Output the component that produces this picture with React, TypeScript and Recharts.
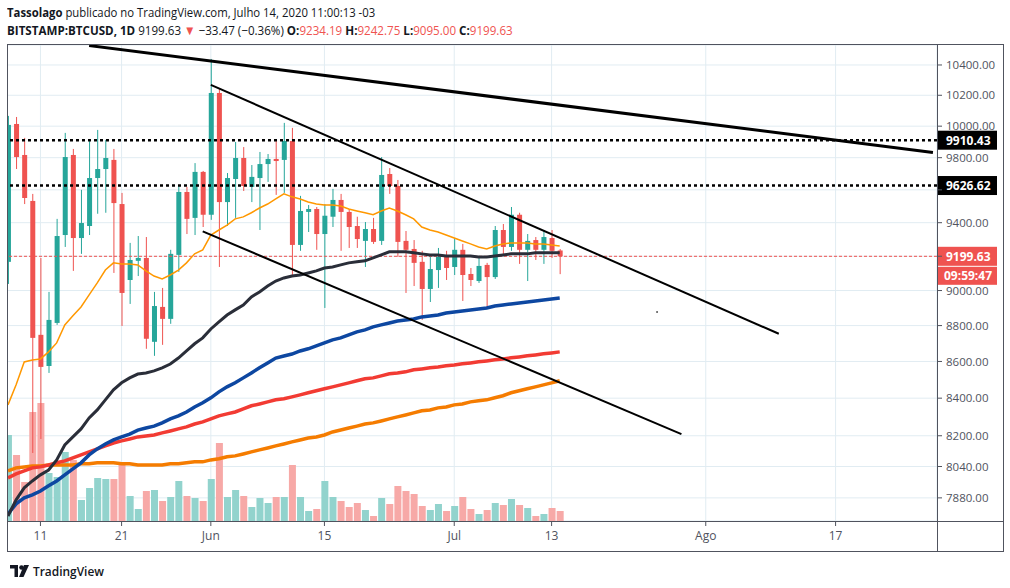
import React, { useLayoutEffect, useRef, useState } from "react"
import {
  ComposedChart,
  Bar,
  Line,
  XAxis,
  YAxis,
  CartesianGrid,
  ReferenceLine,
  ReferenceDot,
} from "recharts"

const GREEN = "#26a69a"
const RED = "#ef5350"
const GREEN_VOL = "#92d3cd"
const RED_VOL = "#f7a9a7"
const AXIS = "#50535e"
const GRID = "#e1ecf2"
const FONT = "'Open Sans', 'Noto Sans', sans-serif"

// daily candles, 7 May .. 14 Jul 2020
const opens = [9167, 10014, 9817, 9532, 8748, 8575, 8815, 9326, 9817, 9308, 9380, 9673, 9729, 9786, 9513, 9061, 9173, 9190, 8709, 8906, 8838, 9208, 9587, 9429, 9711, 9448, 10215, 9525, 9667, 9798, 9618, 9673, 9760, 9792, 9786, 9905, 9267, 9465, 9483, 9332, 9436, 9538, 9465, 9380, 9291, 9362, 9291, 9698, 9624, 9291, 9243, 9167, 9009, 9119, 9202, 9137, 9238, 9096, 9055, 9149, 9078, 9356, 9255, 9448, 9238, 9296, 9238, 9308, 9234.19]
const highs = [10066, 10059, 9925, 9575, 9190, 8992, 9423, 9957, 9855, 9600, 9905, 9976, 9912, 9855, 9581, 9279, 9320, 9314, 8992, 9015, 9238, 9630, 9618, 9766, 9717, 10440, 10241, 9704, 9899, 9867, 9754, 9836, 9823, 9905, 10021, 9989, 9563, 9507, 9495, 9513, 9606, 9575, 9483, 9436, 9404, 9429, 9804, 9735, 9661, 9350, 9296, 9232, 9196, 9249, 9232, 9308, 9273, 9131, 9202, 9161, 9380, 9392, 9495, 9460, 9332, 9314, 9356, 9356, 9242.75]
const lows = [9038, 9729, 9513, 8110, 8183, 8537, 8804, 9255, 9114, 9214, 9326, 9454, 9460, 9102, 8798, 8923, 9084, 8670, 8631, 8692, 8810, 9108, 9332, 9326, 9374, 9417, 9137, 9380, 9429, 9593, 9525, 9356, 9649, 9569, 9581, 9078, 9232, 9344, 9238, 8900, 9374, 9232, 9249, 9249, 9137, 9273, 9267, 9575, 9196, 8986, 9026, 8832, 8934, 9015, 9061, 9090, 8940, 9026, 9044, 8906, 9067, 9208, 9232, 9155, 9055, 9178, 9155, 9190, 9095]
const closes = [10008, 9804, 9550, 8731, 8570, 8832, 9320, 9804, 9308, 9398, 9673, 9729, 9798, 9519, 8986, 9178, 9190, 8726, 8911, 8838, 9214, 9587, 9423, 9711, 9448, 10215, 9525, 9673, 9798, 9624, 9680, 9760, 9792, 9779, 9905, 9267, 9471, 9483, 9332, 9442, 9538, 9465, 9374, 9302, 9362, 9285, 9692, 9624, 9285, 9238, 9161, 9009, 9125, 9196, 9131, 9238, 9090, 9061, 9143, 9078, 9356, 9255, 9448, 9238, 9291, 9238, 9314, 9232, 9199.63]
const volumes = [21500, 16500, 9750, 27250, 29500, 12000, 11000, 17250, 15250, 5250, 8250, 10750, 10500, 10500, 14500, 6250, 3000, 7500, 7750, 5000, 6000, 10000, 6250, 5750, 5000, 10500, 19500, 6000, 7750, 6250, 3500, 5750, 4500, 6000, 6000, 14000, 6000, 2500, 3000, 10000, 6000, 5000, 3500, 4500, 2750, 1250, 5750, 4250, 8750, 7500, 6750, 3750, 2750, 4250, 2500, 3750, 6000, 3000, 1750, 2750, 4500, 4000, 5500, 4000, 3250, 1250, 1750, 3250, 2500]

// moving averages
const maOrangeThin = [8364, 8472, 8597, 8608, 8614, 8653, 8703, 8804, 8855, 8906, 8975, 9044, 9119, 9161, 9155, 9155, 9149, 9114, 9084, 9067, 9090, 9119, 9161, 9214, 9238, 9326, 9356, 9386, 9423, 9435, 9460, 9489, 9513, 9544, 9575, 9557, 9544, 9526, 9513, 9507, 9507, 9501, 9483, 9471, 9460, 9448, 9471, 9489, 9471, 9448, 9423, 9374, 9356, 9344, 9326, 9308, 9290, 9273, 9255, 9243, 9261, 9273, 9279, 9279, 9279, 9273, 9273, 9267, 9261]
const maDark = [7789, 7870, 7931, 7966, 7997, 8022, 8074, 8152, 8194, 8236, 8294, 8337, 8391, 8445, 8483, 8510, 8531, 8537, 8548, 8565, 8586, 8619, 8658, 8698, 8731, 8781, 8821, 8860, 8889, 8917, 8963, 8992, 9026, 9055, 9073, 9084, 9090, 9102, 9114, 9131, 9137, 9149, 9161, 9167, 9173, 9190, 9208, 9226, 9226, 9226, 9220, 9214, 9208, 9208, 9202, 9202, 9202, 9202, 9196, 9196, 9202, 9208, 9214, 9214, 9214, 9220, 9220, 9220, 9220]
const maBlue = [7799, 7850, 7880, 7895, 7915, 7941, 7966, 7997, 8028, 8059, 8100, 8131, 8157, 8178, 8194, 8209, 8230, 8241, 8251, 8268, 8289, 8305, 8326, 8353, 8375, 8402, 8434, 8461, 8483, 8510, 8537, 8565, 8592, 8619, 8630, 8641, 8658, 8670, 8686, 8703, 8720, 8731, 8748, 8765, 8776, 8793, 8804, 8815, 8826, 8832, 8837, 8849, 8854, 8860, 8871, 8877, 8883, 8888, 8894, 8900, 8911, 8917, 8923, 8928, 8934, 8940, 8946, 8951, 8957]
const maRed = [7982, 8002, 8017, 8033, 8038, 8048, 8059, 8069, 8085, 8100, 8116, 8131, 8147, 8162, 8173, 8183, 8194, 8199, 8204, 8215, 8225, 8236, 8247, 8262, 8273, 8289, 8305, 8316, 8326, 8343, 8359, 8369, 8380, 8391, 8397, 8407, 8418, 8429, 8440, 8451, 8461, 8472, 8483, 8494, 8505, 8510, 8521, 8532, 8537, 8543, 8554, 8559, 8565, 8570, 8576, 8581, 8587, 8592, 8598, 8603, 8609, 8614, 8620, 8625, 8631, 8636, 8642, 8647, 8653]
const maOrangeThick = [8017, 8033, 8038, 8043, 8043, 8048, 8048, 8048, 8048, 8054, 8054, 8059, 8059, 8059, 8054, 8054, 8048, 8048, 8048, 8048, 8054, 8054, 8059, 8064, 8064, 8074, 8080, 8090, 8095, 8105, 8116, 8126, 8136, 8147, 8157, 8168, 8178, 8188, 8194, 8204, 8220, 8230, 8241, 8251, 8262, 8268, 8278, 8289, 8300, 8310, 8321, 8332, 8337, 8348, 8353, 8364, 8369, 8380, 8386, 8391, 8402, 8413, 8429, 8440, 8451, 8461, 8472, 8483, 8494]

// drawn trend lines: [day index, price]
const trendTop = [[10, 10530], [114, 9833]]
const channelUpper = [[25, 10268], [95, 8754]]
const channelLower = [[24, 9348], [83, 8209]]

const levelHigh = 9910.43
const levelLow = 9626.62
const lastPrice = 9199.63
const countdown = "09:59:47"

const TOTAL_DAYS = 115
const xTicks = [4, 14, 25, 39, 55, 67, 86, 102]
const xTickLabels = ["11", "21", "Jun", "15", "Jul", "13", "Ago", "17"]
const yTicks = [7880, 8040, 8200, 8400, 8600, 8800, 9000, 9200, 9400, 9600, 9800, 10000, 10200, 10400]
// labels covered by the price tags in the original
const hiddenTickLabels = [9200, 9600]

const pick = (pts: number[][], i: number) => {
  const hit = pts.find((p) => p[0] === i)
  return hit ? hit[1] : undefined
}

const rows = Array.from({ length: TOTAL_DAYS }, (_, i) => {
  const row: any = { i }
  if (i < opens.length) {
    row.open = opens[i]
    row.high = highs[i]
    row.low = lows[i]
    row.close = closes[i]
    row.vol = volumes[i]
    row.maOrangeThin = maOrangeThin[i]
    row.maDark = maDark[i]
    row.maBlue = maBlue[i]
    row.maRed = maRed[i]
    row.maOrangeThick = maOrangeThick[i]
  }
  row.t1 = pick(trendTop, i)
  row.t2 = pick(channelUpper, i)
  row.t3 = pick(channelLower, i)
  return row
})

function Candle(props: any) {
  const { x, y, width, height, payload } = props
  if (!payload || payload.open == null) return null
  const top = Math.min(y, y + height)
  const bottom = Math.max(y, y + height)
  const lh = Math.log(payload.high)
  const ll = Math.log(payload.low)
  const py = (v: number) => top + ((bottom - top) * (lh - Math.log(v))) / (lh - ll)
  const up = payload.close >= payload.open
  const color = up ? GREEN : RED
  const cx = x + width / 2
  const bTop = py(Math.max(payload.open, payload.close))
  const bBot = py(Math.min(payload.open, payload.close))
  return (
    <g>
      <line x1={cx} x2={cx} y1={top} y2={bottom} stroke={color} strokeWidth={1} />
      <rect x={cx - 2.5} y={bTop} width={5} height={Math.max(1, bBot - bTop)} fill={color} />
    </g>
  )
}

function VolumeBar(props: any) {
  const { x, y, width, height, payload } = props
  if (!payload || payload.vol == null) return null
  const up = payload.close >= payload.open
  return <rect x={x} y={y} width={width} height={height} fill={up ? GREEN_VOL : RED_VOL} />
}

function PriceTick(props: any) {
  const { x, y, payload } = props
  if (hiddenTickLabels.includes(payload.value)) return null
  return (
    <text x={x} y={y} dy="0.355em" fill={AXIS} fontSize={11.5} fontFamily={FONT} textAnchor="start">
      {Number(payload.value).toFixed(2)}
    </text>
  )
}

function PriceTag(props: any) {
  const { viewBox, text, fill, extra } = props
  if (!viewBox) return null
  const x = viewBox.x + viewBox.width
  const y = viewBox.y
  return (
    <g>
      <rect x={x} y={y - 9.5} width={60} height={19} fill={fill} />
      <text x={x + 9} y={y + 4.5} fill="#fff" fontSize={12} fontWeight={700} fontFamily={FONT}>
        {text}
      </text>
      {extra && (
        <g>
          <rect x={x} y={y + 10.5} width={60} height={18} fill={fill} />
          <text x={x + 7} y={y + 24} fill="#fff" fontSize={12} fontWeight={700} fontFamily={FONT}>
            {extra}
          </text>
        </g>
      )}
    </g>
  )
}

// one header line, squeezed horizontally to the width it has in the original
function FitLine({ width, top, children }: { width: number; top: number; children: React.ReactNode }) {
  const ref = useRef<HTMLDivElement>(null)
  const [sx, setSx] = useState(1)
  useLayoutEffect(() => {
    if (ref.current && ref.current.scrollWidth > 0) setSx(width / ref.current.scrollWidth)
  }, [width])
  return (
    <div
      ref={ref}
      style={{
        position: "absolute",
        left: 7,
        top,
        display: "inline-block",
        whiteSpace: "nowrap",
        fontFamily: FONT,
        fontSize: 13,
        lineHeight: "18px",
        color: "#131722",
        transform: `scaleX(${sx})`,
        transformOrigin: "0 0",
      }}
    >
      {children}
    </div>
  )
}

const red = (t: string) => <span style={{ color: RED }}>{t}</span>

function Header() {
  return (
    <>
      <FitLine width={368} top={3}>
        <b>Tassolago</b> publicado no TradingView.com, Julho 14, 2020 11:00:13 -03
      </FitLine>
      <FitLine width={506} top={21}>
        <b>BITSTAMP:BTCUSD, 1D</b> 9199.63 {red("▼")} −33.47 (−0.36%) <b>O:</b>
        {red("9234.19")} <b>H:</b>
        {red("9242.75")} <b>L:</b>
        {red("9095.00")} <b>C:</b>
        {red("9199.63")}
      </FitLine>
    </>
  )
}

function Footer() {
  return (
    <svg width={200} height={30} style={{ position: "absolute", left: 0, top: 558 }}>
      <g transform="translate(10,6)" fill="#131722">
        <path d="M0 1h8v12H4.5V4.5H0z" />
        <circle cx={11.5} cy={3.5} r={2.3} />
        <path d="M14 1h5l-5.5 12h-4.5z" />
      </g>
      <text x={33} y={18} fontSize={13} fontWeight={600} fontFamily={FONT} fill="#131722" textLength={71} lengthAdjust="spacingAndGlyphs">
        TradingView
      </text>
    </svg>
  )
}

const line = (style: React.CSSProperties) => (
  <div style={{ position: "absolute", background: AXIS, ...style }} />
)

export default function App() {
  return (
    <div style={{ position: "absolute", left: 0, top: 0, width: 1010, height: 588, background: "#fff", overflow: "hidden" }}>
      <Header />
      <div style={{ position: "absolute", left: 0, top: 0 }}>
        <ComposedChart
          width={1010}
          height={588}
          data={rows}
          margin={{ top: 45, right: 7, bottom: 37, left: 3.94 }}
        >
          <CartesianGrid stroke={GRID} strokeWidth={1} />
          <XAxis
            dataKey="i"
            ticks={xTicks}
            interval={0}
            tickFormatter={(v: any) => xTickLabels[xTicks.indexOf(v)] ?? ""}
            height={30}
            tickSize={5}
            tickMargin={5}
            axisLine={false}
            tickLine={{ stroke: AXIS }}
            tick={{ fill: AXIS, fontSize: 12, fontFamily: FONT }}
          />
          <XAxis xAxisId="v" dataKey="i" hide />
          <YAxis
            orientation="right"
            scale="log"
            domain={[7764, 10534]}
            allowDataOverflow
            ticks={yTicks}
            interval={0}
            width={66}
            tickSize={5}
            tickMargin={4}
            axisLine={false}
            tickLine={{ stroke: AXIS }}
            tick={<PriceTick />}
          />
          <YAxis yAxisId="vol" hide domain={[0, 119000]} />

          <Bar xAxisId="v" yAxisId="vol" dataKey="vol" barSize={7} shape={VolumeBar} isAnimationActive={false} />

          <ReferenceLine y={levelHigh} stroke="#000" strokeWidth={2.5} strokeDasharray="3 3" label={<PriceTag text="9910.43" fill="#000" />} />
          <ReferenceLine y={levelLow} stroke="#000" strokeWidth={2.5} strokeDasharray="3 3" label={<PriceTag text="9626.62" fill="#000" />} />
          <ReferenceLine y={lastPrice} stroke={RED} strokeWidth={1} strokeDasharray="3 2" label={<PriceTag text="9199.63" fill={RED} extra={countdown} />} />

          <Line dataKey="maOrangeThick" stroke="#f57c00" strokeWidth={3.5} dot={false} activeDot={false} isAnimationActive={false} />
          <Line dataKey="maRed" stroke="#f23b33" strokeWidth={3.5} dot={false} activeDot={false} isAnimationActive={false} />
          <Line dataKey="maBlue" stroke="#0d47a1" strokeWidth={3.5} dot={false} activeDot={false} isAnimationActive={false} />
          <Line dataKey="maDark" stroke="#2a2e39" strokeWidth={3} dot={false} activeDot={false} isAnimationActive={false} />
          <Line dataKey="maOrangeThin" stroke="#ff9800" strokeWidth={1.5} dot={false} activeDot={false} isAnimationActive={false} />

          <Bar dataKey={(r: any) => (r.low != null ? [r.low, r.high] : null)} barSize={5} shape={Candle} isAnimationActive={false} />

          <Line dataKey="t1" connectNulls stroke="#000" strokeWidth={3} dot={false} activeDot={false} isAnimationActive={false} />
          <Line dataKey="t2" connectNulls stroke="#000" strokeWidth={2} dot={false} activeDot={false} isAnimationActive={false} />
          <Line dataKey="t3" connectNulls stroke="#000" strokeWidth={2} dot={false} activeDot={false} isAnimationActive={false} />
          <ReferenceDot x={80} y={8877} r={1} fill="#555" stroke="none" />
        </ComposedChart>
      </div>
      {/* mask left of the pane and frame */}
      <div style={{ position: "absolute", left: 0, top: 44, width: 7, height: 510, background: "#fff" }} />
      {line({ left: 7, top: 44, width: 997, height: 1 })}
      {line({ left: 7, top: 551, width: 997, height: 1 })}
      {line({ left: 7, top: 44, width: 1, height: 508 })}
      {line({ left: 1003, top: 44, width: 1, height: 508 })}
      {line({ left: 937, top: 44, width: 1, height: 508 })}
      {line({ left: 7, top: 521, width: 997, height: 1 })}
      <Footer />
    </div>
  )
}
